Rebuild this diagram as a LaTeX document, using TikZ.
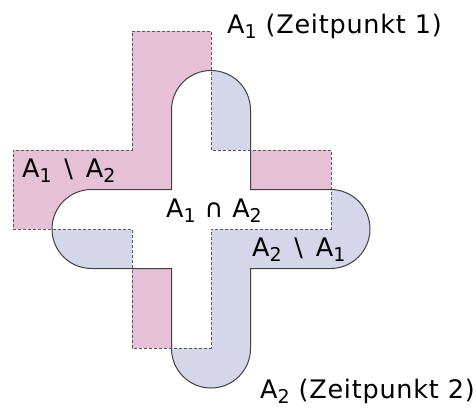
\documentclass[tikz,border=0pt]{standalone}
\usepackage{fontspec}
\setmainfont{DejaVu Sans}[LetterSpace=3]
\definecolor{rosa}{RGB}{230,192,213}
\definecolor{lila}{RGB}{214,214,235}
\newcommand{\subs}[1]{\raisebox{-0.2em}{\fontsize{19}{19}\selectfont #1}}
\newcommand{\ohne}{\hspace{0.5em}\textbackslash\hspace{0.5em}}
% A1: dashed cross, A2: the same cross shifted, with round arm ends
\newcommand{\AoneShape}{(132,31) -- (211,31) -- (211,150) -- (331,150) -- (331,229) -- (211,229) -- (211,348) -- (132,348) -- (132,229) -- (13,229) -- (13,150) -- (132,150) -- cycle}
\newcommand{\AtwoShape}{(171.5,189.5) -- (171.5,110) arc[start angle=180, end angle=0, radius=39.5pt] -- (250.5,189.5) -- (330.5,189.5) arc[start angle=90, end angle=-90, radius=39.5pt] -- (250.5,268.5) -- (250.5,348.5) arc[start angle=0, end angle=-180, radius=39.5pt] -- (171.5,268.5) -- (91.5,268.5) arc[start angle=270, end angle=90, radius=39.5pt] -- cycle}

\begin{document}
\begin{tikzpicture}[
  x=1pt, y=-1pt,
  font=\fontsize{25.5}{25.5}\selectfont,
  lbl/.style={inner sep=0pt, anchor=base west},
  edgeA/.style={draw=black!75, line width=1pt},
  edgeB/.style={draw=black!65, line width=1pt, dashed, dash pattern=on 3pt off 2pt},
]
\useasboundingbox (0,0) rectangle (476,408);

% areas
\fill[rosa] \AoneShape;
\fill[lila] \AtwoShape;
\begin{scope}
  \clip \AoneShape;
  \fill[white] \AtwoShape;
\end{scope}

% outlines
\path[edgeA] \AtwoShape;
\path[edgeB] \AoneShape;

\node[lbl] (zeit1) at (227,33) {A\subs{1} (Zeitpunkt 1)};
\node[lbl] (diff12) at (22,177) {A\subs{1}\ohne A\subs{2}};
\node[lbl] (schnitt) at (166,217) {A\subs{1}\hspace{0.35em}∩\hspace{0.35em}A\subs{2}};
\node[lbl] (diff21) at (252,256) {A\subs{2}\ohne A\subs{1}};
\node[lbl] (zeit2) at (260,398.5) {A\subs{2} (Zeitpunkt 2)};
\end{tikzpicture}
\end{document}
